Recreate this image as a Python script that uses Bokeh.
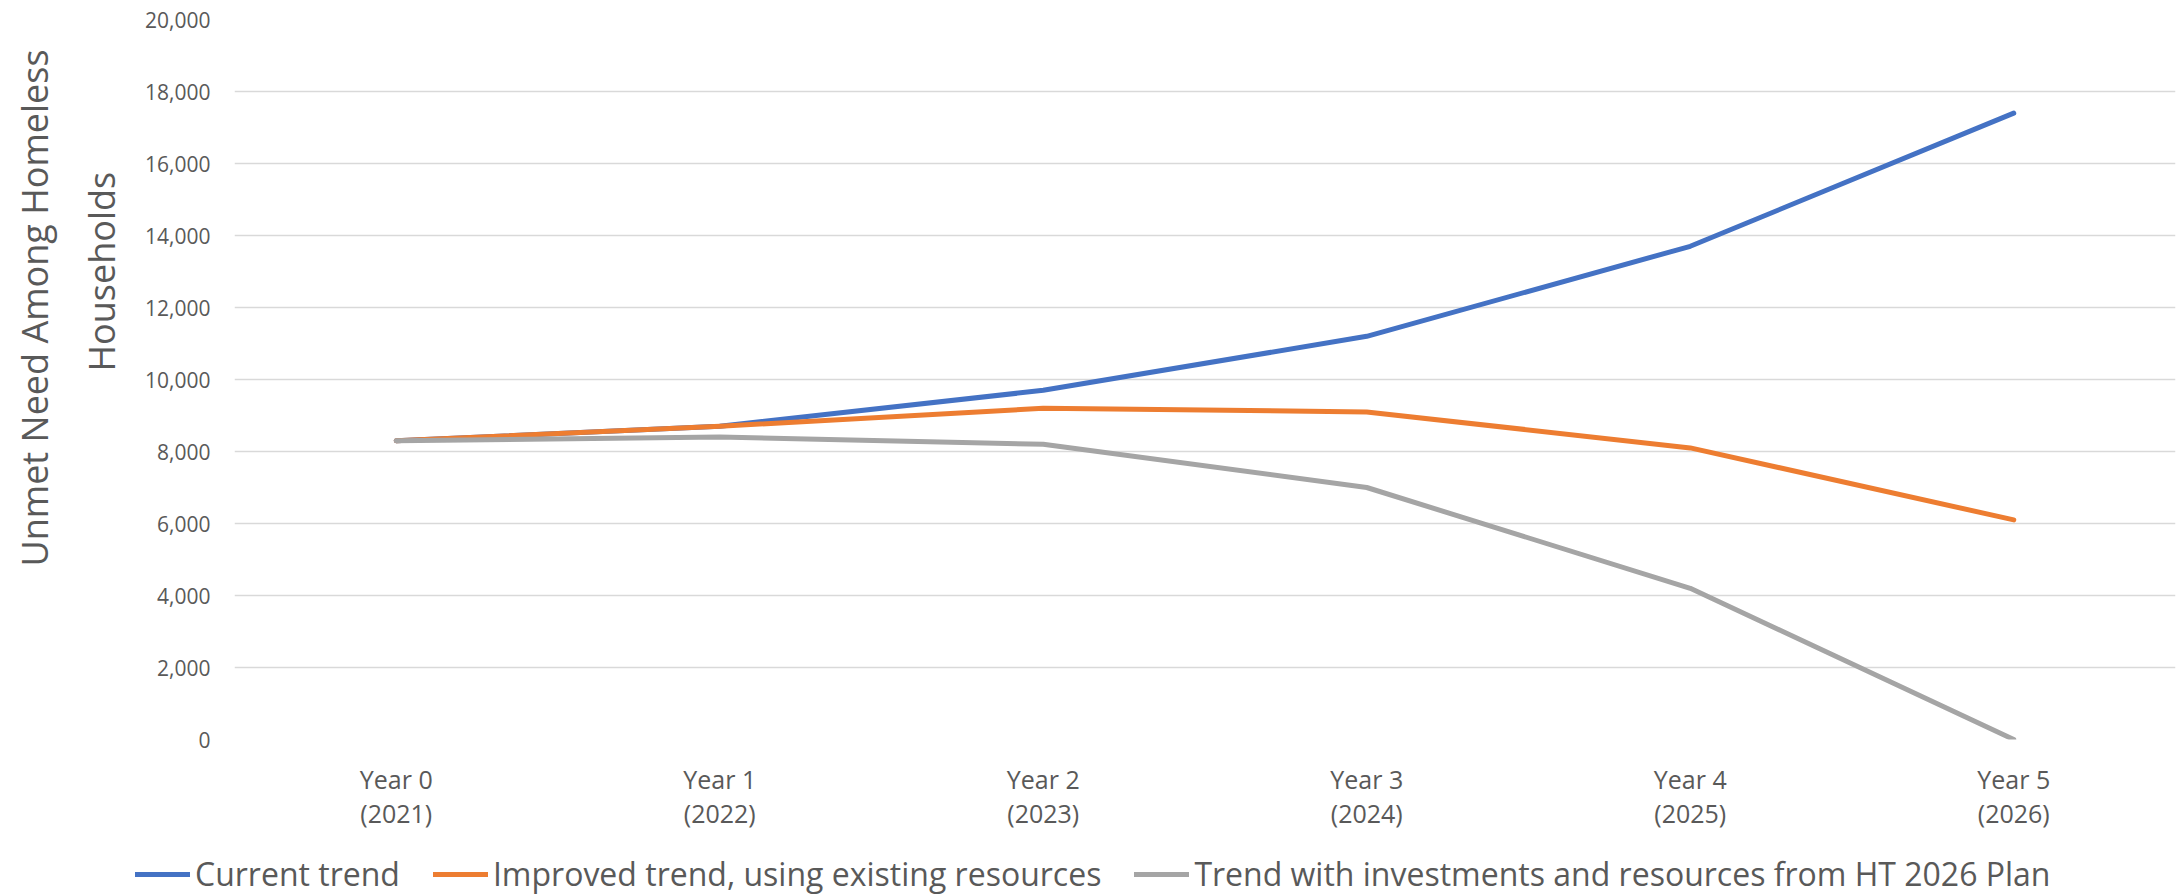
from bokeh.plotting import figure
from bokeh.layouts import column
from bokeh.models import (FactorRange, FixedTicker, NumeralTickFormatter,
                          Legend, LegendItem, Title)
from bokeh.embed import file_html
from bokeh.resources import INLINE

# --- data -------------------------------------------------------------------
year_names = ["Year 0", "Year 1", "Year 2", "Year 3", "Year 4", "Year 5"]
year_dates = ["(2021)", "(2022)", "(2023)", "(2024)", "(2025)", "(2026)"]

current_trend = [8300, 8700, 9700, 11200, 13700, 17400]
improved_trend = [8300, 8700, 9200, 9100, 8100, 6100]
plan_trend = [8300, 8400, 8200, 7000, 4200, 0]

series_names = [
    "Current trend",
    "Improved trend, using existing resources",
    "Trend with investments and resources from HT 2026 Plan",
]
y_ticks = [0, 2000, 4000, 6000, 8000, 10000, 12000, 14000, 16000, 18000, 20000]
y_title_lines = ["Unmet Need Among Homeless", "Households"]

# --- styling ----------------------------------------------------------------
FONT = "Open Sans"
TEXT = "#595959"
GRID = "#D9D9D9"
COLORS = ["#4472C4", "#ED7D31", "#A5A5A5"]
LINE_W = 5

factors = [f"{a}\n{b}" for a, b in zip(year_names, year_dates)]
series = [current_trend, improved_trend, plan_trend]

p = figure(
    width=2178, height=840,
    x_range=FactorRange(*factors, range_padding=0),
    y_range=(0, 20000),
    output_backend="svg", toolbar_location=None,
    min_border_left=234, min_border_right=3,
    min_border_top=19, min_border_bottom=101,
)
p.outline_line_color = None
p.background_fill_color = "white"
p.border_fill_color = "white"

# horizontal gridlines only
p.xgrid.grid_line_color = None
p.ygrid.grid_line_color = GRID
p.ygrid.grid_line_width = 1.5

# y axis
p.yaxis.ticker = FixedTicker(ticks=y_ticks)
p.yaxis.formatter = NumeralTickFormatter(format="0,0")
p.yaxis.axis_line_color = None
p.yaxis.major_tick_line_color = None
p.yaxis.minor_tick_line_color = None
p.yaxis.major_label_text_font = FONT
p.yaxis.major_label_text_font_size = "21px"
p.yaxis.major_label_text_color = TEXT
p.yaxis.major_label_standoff = 18

# x axis
p.xaxis.axis_line_color = None
p.xaxis.major_tick_line_color = None
p.xaxis.minor_tick_line_color = None
p.xaxis.major_label_text_font = FONT
p.xaxis.major_label_text_font_size = "25px"
p.xaxis.major_label_text_color = TEXT
p.xaxis.major_label_text_line_height = 1.0
p.xaxis.major_label_standoff = 16

# series lines
for vals, col in zip(series, COLORS):
    p.line(factors, vals, line_color=col, line_width=LINE_W,
           line_cap="round", line_join="round")

# two-line vertical axis title, inner line first
for txt, off, standoff in [(y_title_lines[1], 368, 33), (y_title_lines[0], 173, 0)]:
    p.add_layout(Title(
        text=txt, align="left", offset=off, standoff=standoff,
        text_font=FONT, text_font_size="36px", text_font_style="normal",
        text_color=TEXT,
    ), "left")

# legend strip underneath the chart; its key lines sit outside its own ranges
lg = figure(
    width=2178, height=55, output_backend="svg", toolbar_location=None,
    x_axis_location=None, y_axis_location=None,
    min_border=0, x_range=(0, 1), y_range=(-2, -1),
)
lg.outline_line_color = None
lg.grid.visible = False
keys = [lg.line(list(range(len(vals))), vals, line_color=col, line_width=LINE_W,
                line_cap="round")
        for vals, col in zip(series, COLORS)]
legend = Legend(
    items=[LegendItem(label=n, renderers=[r]) for n, r in zip(series_names, keys)],
    orientation="horizontal",
    location=(135, 0),
    label_text_font=FONT, label_text_font_size="32px", label_text_color=TEXT,
    glyph_width=55, glyph_height=36, label_height=36,
    label_standoff=5, spacing=33,
    padding=0, margin=0,
    border_line_color=None, background_fill_alpha=0,
)
lg.add_layout(legend)

# keep the two frames independent of each other
for fig in (p, lg):
    if "frame_align" in fig.properties():
        fig.frame_align = False

layout = column(p, lg, spacing=0)
open("out.html", "w").write(file_html(layout, INLINE))
